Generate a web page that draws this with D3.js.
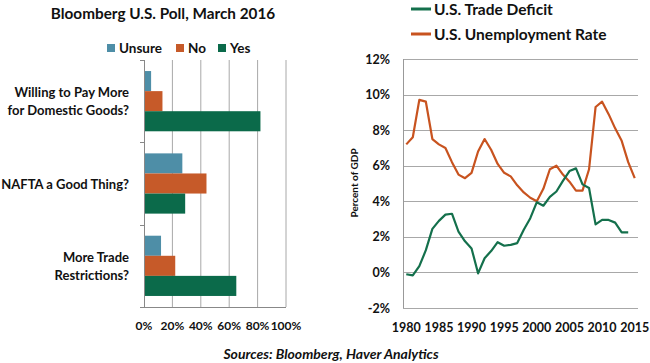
<!DOCTYPE html>
<html><head><meta charset="utf-8">
<script src="https://cdn.jsdelivr.net/npm/d3@7"></script>
<style>
body{margin:0;background:#fff;}
svg{display:block;font-family:Lato, "Open Sans", sans-serif;font-weight:bold;}
</style></head>
<body><svg id="c" width="650" height="363"></svg>
<script>
// ---- Left: poll bar chart ----
const pollCategories = ["Willing to Pay More|for Domestic Goods?", "NAFTA a Good Thing?", "More Trade|Restrictions?"];
const pollSeries = ["Unsure", "No", "Yes"];
const unsureVals = [5, 27, 12];
const noVals = [13, 44, 22];
const yesVals = [82, 29, 65];
const pollTicks = [0, 20, 40, 60, 80, 100];

// ---- Right: line chart ----
const years = d3.range(1980, 2016);
const unemployment = [7.2,7.6,9.7,9.6,7.5,7.2,7.0,6.2,5.5,5.3,5.6,6.8,7.5,6.9,6.1,5.6,5.4,4.9,4.5,4.2,4.0,4.7,5.8,6.0,5.5,5.1,4.6,4.6,5.8,9.3,9.6,8.9,8.1,7.4,6.2,5.3];
const tradeDeficit = [-0.1,-0.17,0.35,1.25,2.45,2.9,3.25,3.3,2.3,1.75,1.35,-0.05,0.8,1.2,1.7,1.5,1.55,1.65,2.4,3.05,3.95,3.75,4.25,4.55,5.15,5.7,5.85,4.95,4.75,2.7,2.95,2.95,2.8,2.25,2.25];
const yTicks = [-2, 0, 2, 4, 6, 8, 10, 12];
const xTickYears = [1980,1985,1990,1995,2000,2005,2010,2015];

const colors = {Unsure:"#4e8ea7", No:"#c65a29", Yes:"#0b6a4a"};
const lineGreen = "#14704c", lineOrange = "#c8531f";
const gridCol = "#a8a8a8";

const svg = d3.select("#c");

// Left chart
const L = {left:144, right:286, top:60, bottom:307};
svg.append("text").attr("x",163).attr("y",19).attr("text-anchor","middle")
  .attr("font-size",15.3).attr("fill","#111").text("Bloomberg U.S. Poll, March 2016");

const px = d3.scaleLinear().domain([0,100]).range([L.left, L.right]);
const py = d3.scaleBand().domain(pollCategories).range([L.top, L.bottom]);
const inner = d3.scaleBand().domain(pollSeries).range([0, py.bandwidth()]).paddingOuter(0.55).paddingInner(0);

const gl = svg.append("g");
gl.selectAll("line.grid").data(pollTicks.slice(1)).join("line")
  .attr("x1",d=>px(d)).attr("x2",d=>px(d)).attr("y1",L.top).attr("y2",L.bottom)
  .attr("stroke",gridCol).attr("stroke-width",1);

const valsBy = {Unsure:unsureVals, No:noVals, Yes:yesVals};
pollSeries.forEach(s=>{
  gl.selectAll("rect."+s).data(pollCategories).join("rect")
    .attr("x",px(0)).attr("y",(c)=>py(c)+inner(s))
    .attr("width",(c,i)=>px(valsBy[s][i])-px(0)).attr("height",inner.bandwidth())
    .attr("fill",colors[s]);
});
// axes
gl.append("line").attr("x1",L.left+0.5).attr("x2",L.left+0.5).attr("y1",L.top).attr("y2",L.bottom).attr("stroke","#888");
gl.append("line").attr("x1",L.left-4).attr("x2",L.right).attr("y1",L.bottom+0.5).attr("y2",L.bottom+0.5).attr("stroke","#888");
[L.top].concat(pollCategories.map(c=>py(c)+py.bandwidth())).forEach(y=>{
  gl.append("line").attr("x1",L.left-4).attr("x2",L.left).attr("y1",Math.round(y)+0.5).attr("y2",Math.round(y)+0.5).attr("stroke","#888");
});
// category labels
pollCategories.forEach(c=>{
  const lines = c.split("|");
  const cy = py(c)+py.bandwidth()/2;
  const lh = 17.5;
  lines.forEach((t,i)=>{
    gl.append("text").attr("x",129).attr("y",cy + (i-(lines.length-1)/2)*lh + 5)
      .attr("text-anchor","end").attr("font-size",13).attr("fill","#111").text(t);
  });
});
// x tick labels
gl.selectAll("text.xt").data(pollTicks).join("text")
  .attr("x",d=>px(d)).attr("y",330).attr("text-anchor","middle")
  .attr("font-size",12).attr("fill","#111").text(d=>d+"%");
// legend
const legX = [107,176,218];
pollSeries.forEach((s,i)=>{
  svg.append("rect").attr("x",legX[i]).attr("y",44).attr("width",8).attr("height",8).attr("fill",colors[s]);
  svg.append("text").attr("x",legX[i]+12).attr("y",53).attr("font-size",13.5).attr("fill","#111").text(s);
});

// Right chart
const R = {left:403, right:638, top:59, bottom:308};
const xb = d3.scaleBand().domain(years).range([R.left, R.right]);
const xc = d=>xb(d)+xb.bandwidth()/2;
const y = d3.scaleLinear().domain([-2,12]).range([R.bottom, R.top]);
const gr = svg.append("g");
gr.selectAll("line.g").data(yTicks).join("line")
  .attr("x1",R.left).attr("x2",R.right).attr("y1",d=>Math.round(y(d))+0.5).attr("y2",d=>Math.round(y(d))+0.5)
  .attr("stroke",gridCol);
gr.append("line").attr("x1",R.left+0.5).attr("x2",R.left+0.5).attr("y1",R.top).attr("y2",R.bottom).attr("stroke","#999");
gr.selectAll("text.yt").data(yTicks).join("text")
  .attr("x",390).attr("y",d=>y(d)+4.5).attr("text-anchor","end")
  .attr("font-size",12.5).attr("fill","#111").text(d=>d+"%");
gr.selectAll("text.xt").data(xTickYears).join("text")
  .attr("x",d=>xc(d)).attr("y",332).attr("text-anchor","middle")
  .attr("font-size",12.5).attr("fill","#111").text(d=>d);
gr.append("text").attr("transform","translate(358,183) rotate(-90)").attr("text-anchor","middle")
  .attr("font-size",10).attr("fill","#111").text("Percent of GDP");

const line = d3.line().x((d,i)=>xc(years[i])).y(d=>y(d));
gr.append("path").datum(unemployment).attr("d",line).attr("fill","none").attr("stroke",lineOrange).attr("stroke-width",2.2).attr("stroke-linejoin","round");
gr.append("path").datum(tradeDeficit).attr("d",line).attr("fill","none").attr("stroke",lineGreen).attr("stroke-width",2.2).attr("stroke-linejoin","round");

// line legend
const lineLeg = [["U.S. Trade Deficit", lineGreen, 9],["U.S. Unemployment Rate", lineOrange, 34]];
lineLeg.forEach(([t,c,yy])=>{
  svg.append("line").attr("x1",411).attr("x2",431).attr("y1",yy).attr("y2",yy).attr("stroke",c).attr("stroke-width",3);
  svg.append("text").attr("x",434).attr("y",yy+5.5).attr("font-size",15.5).attr("fill","#111").text(t);
});

// source
svg.append("text").attr("x",331).attr("y",359).attr("text-anchor","middle")
  .attr("font-size",14).attr("font-style","italic").attr("fill","#111").text("Sources: Bloomberg, Haver Analytics");
</script></body></html>
